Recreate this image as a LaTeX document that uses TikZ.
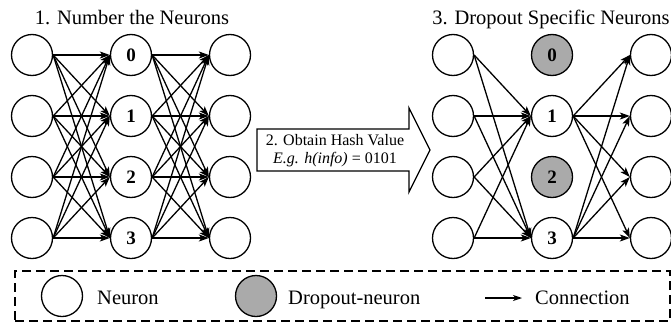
\documentclass[tikz,border=0pt]{standalone}
\usepackage{fontspec}
\setmainfont{Liberation Serif}
\usetikzlibrary{arrows.meta}
\definecolor{dropgray}{RGB}{170,170,170}

\begin{document}
\begin{tikzpicture}[x=1pt,y=-1pt,
  neuron/.style={circle,draw,line width=1.3pt,minimum size=41pt,inner sep=0pt,
    font=\fontsize{19}{19}\selectfont\bfseries},
  dropped/.style={neuron,fill=dropgray},
  link/.style={line width=1.3pt,-{Stealth[length=10pt,width=7pt,inset=2.5pt]}},
  heading/.style={font=\fontsize{20.5}{24}\selectfont,inner sep=0pt,anchor=base},
  legendtext/.style={font=\fontsize{20.5}{24}\selectfont,inner sep=0pt,anchor=base west},
  hashtext/.style={font=\fontsize{16}{18}\selectfont,align=center,inner sep=0pt},
  blockarrow/.style={draw,line width=1.3pt,line join=miter},
  legendbox/.style={draw,line width=1.3pt,dash pattern=on 9pt off 5pt,inner sep=0pt}
]
\useasboundingbox (0,0) rectangle (671,324);

% headings
\node[heading] (t1) at (132,24) {1. Number the Neurons};
\node[heading] (t3) at (551,24) {3. Dropout Specific Neurons};

% fully connected network
\foreach \r/\y in {0/55,1/116,2/177,3/238} {
  \node[neuron] (A\r) at (32,\y) {};
  \node[neuron] (B\r) at (131,\y) {\r};
  \node[neuron] (C\r) at (230,\y) {};
}
\foreach \i in {0,...,3} {
  \foreach \j in {0,...,3} {
    \draw[link] (A\i.east) -- (B\j.west);
    \draw[link] (B\i.east) -- (C\j.west);
  }
}

% hash step arrow
\draw[blockarrow] (257,129) -- (409,129) -- (409,108) -- (430,150)
  -- (409,192) -- (409,171) -- (257,171) -- cycle;
\node[hashtext] (hash) at (335,151)
  {2. Obtain Hash Value\\\textit{E.g. h(info)} = 0101};

% network after dropout
\foreach \r/\y in {0/55,1/116,2/177,3/238} {
  \node[neuron] (D\r) at (453,\y) {};
  \node[neuron] (F\r) at (651,\y) {};
}
\node[dropped] (E0) at (552,55) {0};
\node[neuron]  (E1) at (552,116) {1};
\node[dropped] (E2) at (552,177) {2};
\node[neuron]  (E3) at (552,238) {3};
\foreach \i in {0,...,3} {
  \foreach \k in {1,3} {
    \draw[link] (D\i.east) -- (E\k.west);
    \draw[link] (E\k.east) -- (F\i.west);
  }
}

% legend
\node[legendbox,minimum width=655pt,minimum height=50pt] (legend) at (342.5,296) {};
\node[neuron] (ln) at (62,296) {};
\node[legendtext] (lnt) at (97,304) {Neuron};
\node[dropped] (ld) at (256,296) {};
\node[legendtext] (ldt) at (288,304) {Dropout-neuron};
\coordinate (la) at (485,298);
\coordinate (lb) at (522,298);
\draw[line width=1.1pt,-{Stealth[length=9pt,width=6pt,inset=2.5pt]}] (la) -- (lb);
\node[legendtext] (lct) at (535,304) {Connection};
\end{tikzpicture}
\end{document}
